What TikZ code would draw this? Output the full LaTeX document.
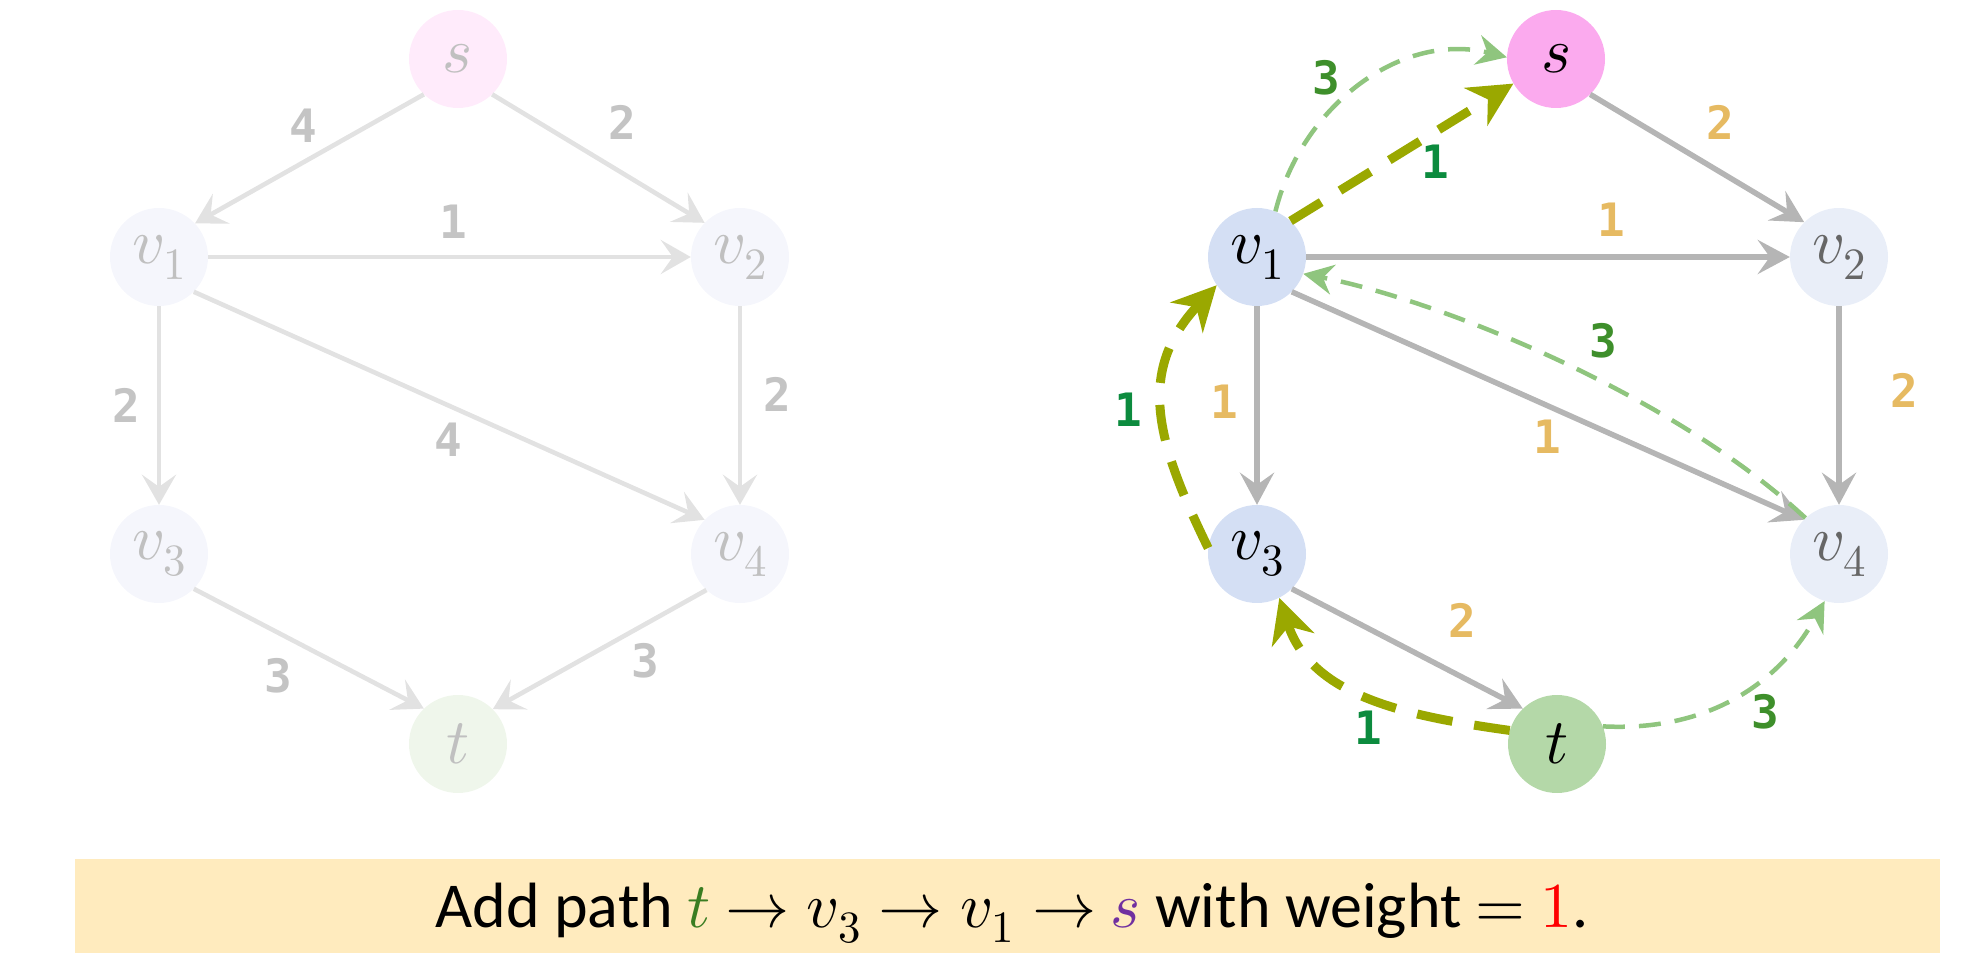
\documentclass[tikz,border=0pt]{standalone}
\usepackage{fontspec}
\usepackage{unicode-math}
\setmainfont{Carlito}
\setmathfont{Latin Modern Math}
\newfontfamily\wfont{DejaVu Sans Mono}
\usetikzlibrary{arrows.meta}
\definecolor{fadeedge}{RGB}{226,226,226}
\definecolor{fadelab}{RGB}{196,196,196}
\definecolor{fadetxt}{RGB}{192,192,192}
\definecolor{fadeS}{RGB}{255,235,251}
\definecolor{fadeV}{RGB}{245,246,252}
\definecolor{fadeT}{RGB}{239,246,235}
\definecolor{fillS}{RGB}{251,170,238}
\definecolor{fillVa}{RGB}{212,223,244}
\definecolor{fillVb}{RGB}{233,238,248}
\definecolor{fillT}{RGB}{180,216,168}
\definecolor{dimtxt}{RGB}{102,102,102}
\definecolor{grayedge}{RGB}{181,181,181}
\definecolor{orangelab}{RGB}{230,186,98}
\definecolor{resid}{RGB}{143,197,126}
\definecolor{residlab}{RGB}{62,143,43}
\definecolor{olive}{RGB}{154,168,0}
\definecolor{olivelab}{RGB}{12,139,62}
\definecolor{banner}{RGB}{255,235,190}
\definecolor{tgreen}{RGB}{58,125,34}
\definecolor{spurple}{RGB}{112,48,160}
\definecolor{wred}{RGB}{255,0,0}
\tikzset{
  gnode/.style={circle, minimum size=98pt, inner sep=0pt, font=\fontsize{64}{64}\selectfont},
  fedge/.style={draw=fadeedge, line width=4.6pt, -{Stealth[length=30pt,width=34pt,inset=12pt]}},
  gedge/.style={draw=grayedge, line width=5.5pt, -{Stealth[length=32pt,width=34pt,inset=12pt]}},
  residedge/.style={draw=resid, line width=4.5pt, dash pattern=on 22pt off 14pt, -{Stealth[length=30pt,width=30pt,inset=10pt]}},
  pathedge/.style={draw=olive, line width=9pt, dash pattern=on 36pt off 22pt, -{Stealth[length=44pt,width=44pt,inset=14pt]}},
  wlab/.style={font=\wfont\bfseries\fontsize{46}{46}\selectfont},
}
\begin{document}
\begin{tikzpicture}[x=1pt,y=1pt]
\useasboundingbox (0,0) rectangle (1986,967);
% ---------- left (faded) graph ----------
\node[gnode, fill=fadeS, text=fadetxt] (ls)  at (458,908) {$s$};
\node[gnode, fill=fadeV, text=fadetxt] (lv1) at (159,710) {$v_1$};
\node[gnode, fill=fadeV, text=fadetxt] (lv2) at (740,710) {$v_2$};
\node[gnode, fill=fadeV, text=fadetxt] (lv3) at (159,413) {$v_3$};
\node[gnode, fill=fadeV, text=fadetxt] (lv4) at (740,413) {$v_4$};
\node[gnode, fill=fadeT, text=fadetxt] (lt)  at (458,223) {$t$};
\draw[fedge] (ls.226) -- (lv1.43);
\draw[fedge] (ls.314) -- (lv2.136);
\draw[fedge] (lv1) -- (lv2);
\draw[fedge] (lv1) -- (lv3);
\draw[fedge] (lv1.-45) -- (lv4.136);
\draw[fedge] (lv2) -- (lv4);
\draw[fedge] (lv3.-45) -- (lt.134);
\draw[fedge] (lv4.227) -- (lt.45);
\node[wlab, text=fadelab] (la1) at (303,841) {4};
\node[wlab, text=fadelab] (la2) at (622,845) {2};
\node[wlab, text=fadelab] (la3) at (453,745) {1};
\node[wlab, text=fadelab] (la4) at (126,562) {2};
\node[wlab, text=fadelab] (la5) at (448,527) {4};
\node[wlab, text=fadelab] (la6) at (777,573) {2};
\node[wlab, text=fadelab] (la7) at (278,291) {3};
\node[wlab, text=fadelab] (la8) at (645,306) {3};
% ---------- right graph ----------
\node[gnode, fill=fillS, text=black] (rs)  at (1556,908) {$s$};
\node[gnode, fill=fillVa, text=black] (rv1) at (1257,710) {$v_1$};
\node[gnode, fill=fillVb, text=dimtxt] (rv2) at (1839,710) {$v_2$};
\node[gnode, fill=fillVa, text=black] (rv3) at (1257,413) {$v_3$};
\node[gnode, fill=fillVb, text=dimtxt] (rv4) at (1839,413) {$v_4$};
\node[gnode, fill=fillT, text=black] (rt)  at (1557,223) {$t$};
\draw[gedge] (rs.-46) -- (rv2.135);
\draw[gedge] (rv1) -- (rv2);
\draw[gedge] (rv1) -- (rv3);
\draw[gedge] (rv1.-45) -- (rv4.136);
\draw[gedge] (rv2) -- (rv4);
\draw[gedge] (rv3.-45) -- (rt.134);
% residual edges
\draw[residedge] (rv1.68) to[out=76, in=166] (rs.178);
\draw[residedge] (rv4.133) .. controls +(137:180) and +(-11:140) .. (rv1.-20);
\draw[residedge] (rt.21) to[out=-3, in=241] (rv4.253);
% augmenting path
\draw[pathedge] (rv1.47) -- (rs.210);
\draw[pathedge] (rv3.173) to[out=116, in=227, looseness=1.15] (rv1.215);
\draw[pathedge] (rt.164) to[out=172, in=288] (rv3.-63);
% labels
\node[wlab, text=orangelab] (ra1) at (1720,845) {2};
\node[wlab, text=orangelab] (ra2) at (1611,747) {1};
\node[wlab, text=orangelab] (ra3) at (1224,565) {1};
\node[wlab, text=orangelab] (ra4) at (1547,530) {1};
\node[wlab, text=orangelab] (ra5) at (1904,577) {2};
\node[wlab, text=orangelab] (ra6) at (1462,347) {2};
\node[wlab, text=residlab] (rr1) at (1326,889) {3};
\node[wlab, text=residlab] (rr2) at (1603,626) {3};
\node[wlab, text=residlab] (rr3) at (1765,255) {3};
\node[wlab, text=olivelab] (rp1) at (1435,805) {1};
\node[wlab, text=olivelab] (rp2) at (1128,557) {1};
\node[wlab, text=olivelab] (rp3) at (1368,239) {1};
% ---------- banner ----------
\fill[banner] (75,14) rectangle (1940,108);
\node[anchor=base, font=\fontsize{64}{74}\selectfont, inner sep=0pt] (cap) at (1012,40)
  {Add path {\color{tgreen}$t$} $\rightarrow v_3 \rightarrow v_1 \rightarrow$ {\color{spurple}$s$} with weight $=$ {\color{wred}$1$}.};
\end{tikzpicture}
\end{document}
